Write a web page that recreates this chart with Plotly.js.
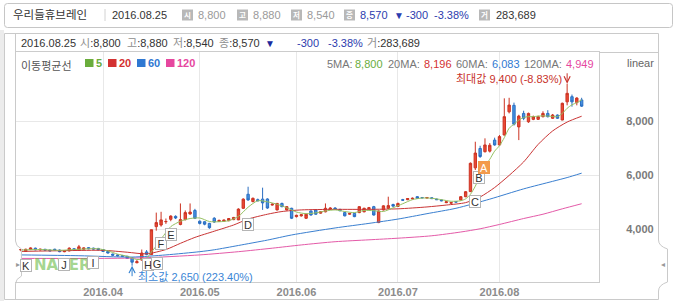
<!DOCTYPE html>
<html><head><meta charset="utf-8">
<script src="https://cdn.plot.ly/plotly-3.0.1.min.js"></script>
<style>html,body{margin:0;padding:0;background:#fff;overflow:hidden}#chart{width:674px;height:301px}</style>
</head><body><div id="chart"></div>
<script>
// ---- trading days (2016) ----
const marchDays=[9,10,11,14,15,16,17,18,21,22,23,24,25,28,29,30,31];
const aprilDays=[1,4,5,6,7,8,11,12,14,15,18,19,20,21,22,25,26,27,28,29];
const mayDays=[2,3,4,9,10,11,12,13,16,17,18,19,20,23,24,25,26,27,30,31];
const juneDays=[1,2,3,7,8,9,10,13,14,15,16,17,20,21,22,23,24,27,28,29,30];
const julyDays=[1,4,5,6,7,8,11,12,13,14,15,18,19,20,21,22,25,26,27,28,29];
const augustDays=[1,2,3,4,5,8,9,10,11,12,16,17,18,19,22,23,24,25];

// ---- OHLC ----
const opens=[3230,3180,3250,3300,3240,3260,3230,3260,3230,3170,3200,3280,3220,3260,3320,3300,3290,
3250,3180,3080,3050,3020,3000,2940,2760,2860,3160,3060,4100,4160,4280,4370,4480,4180,4360,4570,4700,
4300,4280,4220,4410,4290,4300,4320,4360,4350,4780,5300,5030,5100,5120,5125,4900,4720,4960,4720,4780,
4470,4500,4410,4680,4720,4600,4650,4740,4790,4740,4620,4560,4590,4620,4650,4760,4840,4250,4720,4780,4920,
4850,5100,5100,5130,5210,5180,5160,5170,5120,5090,4990,4970,5030,5090,5210,5400,6280,7000,6880,6900,7310,
7130,7500,8360,8600,7800,8300,7990,8080,8080,8180,8300,8120,8240,8055,8730,8920,8700,8800];
const highs=[3270,3280,3330,3320,3280,3270,3250,3280,3250,3220,3330,3300,3420,3330,3340,3320,3310,
3270,3200,3100,3070,3050,3010,2960,2860,3250,3230,3985,4620,4650,4400,4520,4520,4960,4700,4960,4760,
4330,4300,4240,4450,4360,4360,4420,4460,4780,5150,5580,5180,5140,5545,5150,4970,4980,4990,4860,4800,
4540,4560,4580,4700,4740,4670,4960,4820,4820,4760,4640,4610,4610,4860,4800,4830,4870,4700,4890,5210,4950,
4990,5130,5160,5180,5230,5200,5200,5190,5140,5100,5040,5010,5050,5230,5420,6480,7250,7100,7375,7200,7400,
7500,8860,8880,8700,8250,8400,8330,8220,8220,8380,8420,8280,8260,8700,9400,9000,8900,8880];
const lows=[3190,3170,3230,3220,3210,3200,3190,3200,3150,3150,3180,3210,3200,3240,3260,3250,3220,
3160,3100,3020,2990,2980,2900,2650,2740,2840,3040,3050,3950,4100,4200,4300,4380,4150,4330,4540,4380,
4180,4150,4020,4240,4270,4280,4300,4340,4340,4760,5060,5000,5040,4720,4760,4880,4700,4820,4700,4380,
4440,4470,4390,4510,4540,4580,4630,4720,4720,4670,4480,4540,4450,4600,4630,4740,4510,4230,4700,4760,4840,
4830,5060,5080,5110,5140,5150,5140,5130,5090,5040,4970,4950,5000,5070,5190,5380,6200,6650,6850,6850,7100,
7100,7480,8300,7850,7310,8050,7950,8050,8060,8150,8150,8100,8100,8050,8600,8550,8600,8540];
const closes=[3250,3260,3310,3240,3260,3230,3200,3230,3170,3200,3300,3230,3350,3310,3280,3270,3240,
3180,3120,3040,3020,3000,2920,2780,2800,3120,3070,3985,4250,4350,4290,4490,4420,4360,4620,4640,4410,
4220,4190,4060,4270,4330,4340,4400,4440,4750,5120,5090,5150,5060,4980,4790,4930,4960,4840,4840,4410,
4520,4540,4560,4530,4560,4650,4780,4790,4740,4690,4500,4590,4470,4840,4780,4800,4530,4680,4870,4880,4860,
4960,5080,5140,5150,5150,5170,5180,5140,5100,5060,5020,4990,5010,5210,5395,6450,6830,6700,7130,7120,7130,
7440,8180,8610,7900,8200,8120,8300,8180,8180,8300,8180,8240,8120,8675,9045,8730,8870,8570];
const lastVolume=283689;

// ---- moving averages (trading-day index -> value) ----
const ma5Idx=[0,4,8,12,16,18,20,22,24,26,27,28,29,30,31,33,35,37,39,41,43,45,47,49,51,53,55,57,59,61,63,65,67,69,71,73,75,77,79,81,83,85,87,89,91,92,93,94,95,96,97,98,99,100,101,102,103,104,105,106,107,108,109,110,111,112,113,114,115,116];
const ma5Val=[3230,3250,3220,3260,3280,3200,3080,3000,2880,2930,3160,3380,3640,3880,4100,4300,4400,4420,4290,4280,4320,4480,4820,5060,5020,4930,4800,4640,4580,4610,4680,4720,4660,4620,4700,4690,4660,4800,4950,5100,5160,5150,5100,5040,5060,5130,5300,5600,6000,6350,6600,6900,7100,7400,7750,7900,8050,8150,8180,8180,8200,8210,8200,8190,8180,8300,8490,8620,8700,8800];
const ma20Idx=[0,10,17,22,26,30,33,36,40,44,47,51,54,58,65,72,78,84,88,92,95,98,101,104,107,110,113,116];
const ma20Val=[3180,3210,3220,3150,3090,3250,3480,3700,3930,4160,4380,4560,4660,4720,4740,4740,4760,4830,4900,4990,5200,5550,6000,6500,7150,7650,7980,8196];
const ma60Idx=[0,12,23,30,37,40,45,51,56,65,72,78,84,90,97,104,110,113,116];
const ma60Val=[3050,3020,2970,3050,3170,3240,3400,3600,3790,4050,4220,4380,4580,4780,5120,5500,5780,5920,6083];
const ma120Idx=[0,15,25,37,45,52,58,65,72,78,85,91,95,99,104,108,112,116];
const ma120Val=[2920,2920,2940,3050,3170,3300,3420,3540,3610,3670,3760,3900,4020,4180,4400,4560,4760,4949];

// ---- event markers ----
const markerLetters=['K','J','I','H','G','F','E','D','C','B','A'];
const markerIdx=[1,9,15,26.2,28.2,28.9,31,46.9,94,94.8,95.9];
const markerPrice=[2640,2713,2787,2676,2749,3480,3826,4197,5024,5915,6290];

const monthLabels=['2016.04','2016.05','2016.06','2016.07','2016.08'];
const priceTicks=[4000,6000,8000];
const stockName='우리들휴브레인';

// ---- build ----
const pad=n=>String(n).padStart(2,'0');
const dates=[].concat(
  marchDays.map(d=>'2016-03-'+pad(d)), aprilDays.map(d=>'2016-04-'+pad(d)),
  mayDays.map(d=>'2016-05-'+pad(d)), juneDays.map(d=>'2016-06-'+pad(d)),
  julyDays.map(d=>'2016-07-'+pad(d)), augustDays.map(d=>'2016-08-'+pad(d)));
const tickvals=monthLabels.map(m=>dates.find(d=>d.startsWith(m.replace('.','-'))));
const fmt=v=>v.toLocaleString('en-US');
const last=closes.length-1;
const change=closes[last]-closes[last-1];
const pct=(change/closes[last-1]*100).toFixed(2);
const dateTxt=dates[last].replace(/-/g,'.');
const maxVal=Math.max(...highs), maxIdx=highs.indexOf(maxVal);
const minVal=Math.min(...lows), minIdx=lows.indexOf(minVal);
const maxPct=((closes[last]/maxVal-1)*100).toFixed(2);
const minPct=((closes[last]/minVal-1)*100).toFixed(2);

const F='"Liberation Sans", "Noto Sans CJK KR", sans-serif';
const L=15,T=52,W=584,H=230;
const px=x=>(x-L)/W, py=y=>(T+H-y)/H;
const C5='#6aad3c',C20='#d33131',C60='#2f78d2',C120='#e6479f';
const BLUE='#2b3cae', GRAY='#9a9a9a';

const shapes=[], ann=[];
const line=(x0,y0,x1,y1,c)=>shapes.push({type:'line',xref:'paper',yref:'paper',x0:px(x0),y0:py(y0),x1:px(x1),y1:py(y1),line:{color:c||'#cacaca',width:1}});
const rect=(x0,y0,x1,y1,fill,lc)=>shapes.push({type:'rect',xref:'paper',yref:'paper',x0:px(x0),y0:py(y0),x1:px(x1),y1:py(y1),fillcolor:fill,line:{color:lc||fill,width:lc?1:0},layer:'above'});
const path=(d,c,fill)=>shapes.push({type:'path',xref:'paper',yref:'paper',path:d,line:{color:c||'#cacaca',width:1},fillcolor:fill||'rgba(0,0,0,0)'});
const P=(x,y)=>px(x)+','+py(y);
const txt=(x,y,text,o)=>{o=o||{};ann.push(Object.assign({xref:'paper',yref:'paper',x:px(x),y:py(y),xanchor:o.xa||'left',yanchor:'middle',text:text,showarrow:false,borderpad:0,font:{family:F,size:o.size||11,color:o.color||'#333',weight:o.weight||'normal'}},o.extra||{}));};

// left gray strip
rect(0,30,4,301,'#ececec');
// header box
path('M'+P(7.5,3.5)+' L'+P(669.5,3.5)+' Q'+P(672.5,3.5)+' '+P(672.5,6.5)+' L'+P(672.5,24.5)+' Q'+P(672.5,27.5)+' '+P(669.5,27.5)+' L'+P(7.5,27.5)+' Q'+P(4.5,27.5)+' '+P(4.5,24.5)+' L'+P(4.5,6.5)+' Q'+P(4.5,3.5)+' '+P(7.5,3.5)+' Z','#c6c6c6','#ffffff');
line(105,9,105,21,'#d2d2d2');
// panel
line(4.5,33.5,658.5,33.5); line(4.5,33.5,4.5,299.5); line(4.5,299.5,658.5,299.5);
path('M'+P(658.5,33.5)+' L'+P(658.5,240)+' Q'+P(658.5,246)+' '+P(667.5,249)+' L'+P(667.5,282)+' Q'+P(658.5,285)+' '+P(658.5,291)+' L'+P(658.5,299.5));
path('M'+P(15.5,33.5)+' L'+P(15.5,241)+' Q'+P(15.5,246)+' '+P(21.5,249)+' L'+P(21.5,276)+' Q'+P(15.5,279)+' '+P(15.5,284)+' L'+P(15.5,299.5));
line(599,52.5,658.5,52.5);
txt(662.5,264,'◂',{xa:'center',size:8,color:'#999'});
txt(18.3,264,'▸',{xa:'center',size:8,color:'#999'});

// header texts
txt(12,15,stockName,{size:11.5,color:'#333'});
txt(111,15,dateTxt,{size:11,color:'#333'});
const icons=[{x:182,l:'시',v:fmt(opens[last]),c:GRAY},{x:237,l:'고',v:fmt(highs[last]),c:GRAY},{x:291,l:'저',v:fmt(lows[last]),c:GRAY},{x:344,l:'종',v:fmt(closes[last]),c:BLUE}];
icons.forEach(ic=>{rect(ic.x,9.5,ic.x+11,20.5,'#b8b8b8');txt(ic.x+5.5,15,ic.l,{xa:'center',size:7.5,color:'#fff',weight:'bold'});txt(ic.x+15,15,ic.v,{color:ic.c});});
txt(393,15,'▼',{size:10,color:BLUE});
txt(405,15,fmt(change),{color:BLUE});
txt(433,15,pct+'%',{color:BLUE});
rect(479,9.5,490,20.5,'#b8b8b8');txt(484.5,15,'거',{xa:'center',size:7.5,color:'#fff',weight:'bold'});
txt(495,15,fmt(lastVolume),{color:'#333'});

// info row
const lab=s=>'<span style="color:#8e8e8e">'+s+'</span>:';
txt(20,43.3,dateTxt);
txt(79,43.3,lab('시')+fmt(opens[last]));
txt(126,43.3,lab('고')+fmt(highs[last]));
txt(172,43.3,lab('저')+fmt(lows[last]));
txt(218,43.3,lab('종')+fmt(closes[last]));
txt(264,43.3,'▼',{size:10,color:'#1a2a9c'});
txt(296,43.3,fmt(change),{color:BLUE});
txt(327,43.3,pct+'%',{color:BLUE});
txt(366,43.3,lab('거')+fmt(lastVolume));

// legend row
txt(20,65.5,'이동평균선',{size:11,color:'#555'});
[[85,'5',C5],[108,'20',C20],[137,'60',C60],[166,'120',C120]].forEach(a=>{rect(a[0],59,a[0]+8.5,67,a[2]);txt(a[0]+10,63,a[1],{color:a[2],weight:'bold'});});
// MA values row
const maLast=[[326,'5MA:',354,ma5Val,C5],[387,'20MA:',423,ma20Val,C20],[455,'60MA:',491,ma60Val,C60],[523,'120MA:',565,ma120Val,C120]];
maLast.forEach(m=>{txt(m[0],64,m[1],{color:'#777'});txt(m[2],64,fmt(m[3][m[3].length-1]),{color:m[4]});});
txt(640,63,'linear',{xa:'center',color:'#666'});

// NAVER watermark
txt(33,265,'NAVER',{size:15,color:'rgba(104,186,70,0.62)',weight:'bold',extra:{font:{family:'"DejaVu Sans", sans-serif',size:15,color:'rgba(104,186,70,0.62)',weight:'bold'}}});

// event markers
markerLetters.forEach((m,k)=>{const isA=m==='A';ann.push({xref:'x',yref:'y',x:markerIdx[k],y:markerPrice[k],text:m,showarrow:false,width:10,height:11,borderpad:0,borderwidth:1,bordercolor:isA?'#f2994a':'#b5b5b5',bgcolor:isA?'#f39b4b':'#ffffff',font:{family:F,size:11,color:isA?'#ffffff':'#333'}});});

// max / min
ann.push({xref:'x',yref:'y',x:maxIdx,y:maxVal,ax:0,ay:-12,text:'',showarrow:true,arrowhead:5,arrowsize:1.2,arrowwidth:1,arrowcolor:'#c8332c',standoff:0});
ann.push({xref:'x',yref:'y',x:maxIdx,y:maxVal,xanchor:'right',yanchor:'middle',xshift:-4,yshift:5,text:'최대값 '+fmt(maxVal)+' ('+maxPct+'%)',showarrow:false,borderpad:0,font:{family:F,size:11,color:'#c8332c'}});
ann.push({xref:'x',yref:'y',x:minIdx,y:minVal,ax:0,ay:12,text:'',showarrow:true,arrowhead:5,arrowsize:1.2,arrowwidth:1,arrowcolor:'#2f7fd0',standoff:0});
ann.push({xref:'x',yref:'y',x:minIdx,y:minVal,xanchor:'left',yanchor:'middle',xshift:5,yshift:-11.5,text:'최소값 '+fmt(minVal)+' ('+minPct+'%)',showarrow:false,borderpad:0,font:{family:F,size:11,color:'#3b86d6'}});

const maTrace=(idx,val,c)=>({type:'scatter',mode:'lines',x:idx.map(i=>dates[i]),y:val,line:{color:c,width:1,shape:'spline',smoothing:0.7},hoverinfo:'skip'});
const data=[
 {type:'candlestick',x:dates,open:opens,high:highs,low:lows,close:closes,whiskerwidth:0,hoverinfo:'skip',
  increasing:{line:{color:'#cc3322',width:1},fillcolor:'#ea4a35'},
  decreasing:{line:{color:'#2a6ec2',width:1},fillcolor:'#4592e0'}},
 maTrace(ma120Idx,ma120Val,'#e45aa8'),
 maTrace(ma60Idx,ma60Val,'#3a7fd0'),
 maTrace(ma20Idx,ma20Val,'#c93434'),
 maTrace(ma5Idx,ma5Val,'#96c162')
];
const layout={width:674,height:301,margin:{l:L,r:674-L-W,t:T,b:301-T-H,pad:0},
 paper_bgcolor:'#ffffff',plot_bgcolor:'#ffffff',showlegend:false,font:{family:F,size:11,color:'#333'},
 xaxis:{type:'category',categoryorder:'array',categoryarray:dates,range:[-1.22,119.59],rangeslider:{visible:false},
  tickvals:tickvals,ticktext:monthLabels,showgrid:true,gridcolor:'#e8e8e8',showline:true,linecolor:'#cccccc',mirror:true,
  ticks:'',zeroline:false,fixedrange:true,tickfont:{family:F,size:11,color:'#8c8c8c',weight:'bold'}},
 yaxis:{side:'right',range:[2045,10579],tickvals:priceTicks,ticktext:priceTicks.map(fmt),showgrid:true,gridcolor:'#e8e8e8',
  showline:true,linecolor:'#cccccc',ticks:'',ticklabelstandoff:24,zeroline:false,fixedrange:true,
  tickfont:{family:F,size:11,color:'#7a7a7a',weight:'bold'}},
 shapes:shapes,annotations:ann};
Plotly.newPlot('chart',data,layout,{staticPlot:true,displayModeBar:false});
</script></body></html>
